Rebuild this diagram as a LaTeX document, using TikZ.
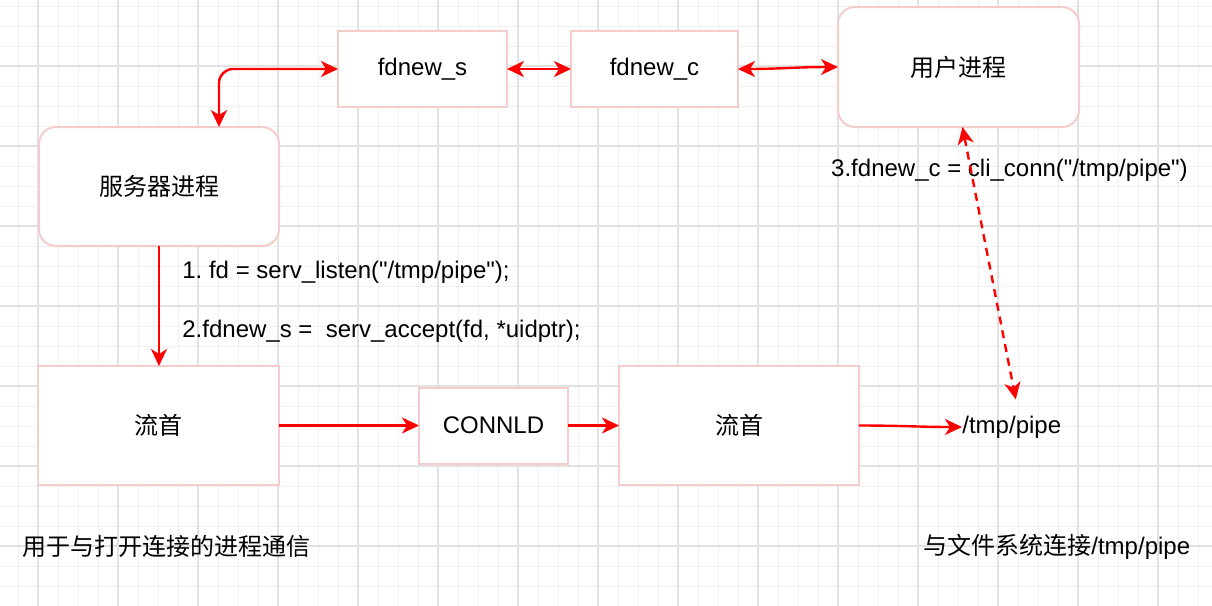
\documentclass[tikz,border=0pt]{standalone}
\usepackage{fontspec}
\setmainfont{Liberation Sans}[Ligatures=TeXOff]
\newfontfamily\cjk{Noto Sans CJK SC}
\usepackage{tikz}
\usetikzlibrary{positioning, arrows.meta, calc}
\definecolor{boxLine}{HTML}{F4CCCC}
\definecolor{lnRed}{HTML}{FF0000}
\definecolor{gridMinor}{HTML}{F1F1F1}
\definecolor{gridMajor}{HTML}{E2E2E2}
\frenchspacing

\begin{document}
\begin{tikzpicture}[x=0.5pt,y=0.5pt,font=\fontsize{12}{14}\selectfont,bx/.style={draw=boxLine, line width=1pt, fill=white, inner sep=2pt, outer sep=0pt},rbx/.style={bx, rounded corners=8.5pt},lbl/.style={inner sep=0pt},arr/.style={-{Stealth[length=8.5pt, width=8pt, inset=2.5pt]}, line width=1.2pt, color=lnRed},darr/.style={{Stealth[length=8.5pt, width=8pt, inset=2.5pt]}-{Stealth[length=8.5pt, width=8pt, inset=2.5pt]}, line width=1.2pt, color=lnRed},gmin/.style={draw=gridMinor, line width=0.5pt},gmaj/.style={draw=gridMajor, line width=0.6pt}]
\useasboundingbox[fill=white] (0,0) rectangle (1212,-606);
% background grid
\foreach \gx in {18,38,...,1198} \draw[gmin] (\gx,0) -- (\gx,-606);
\foreach \gy in {6,26,...,586} \draw[gmin] (0,-\gy) -- (1212,-\gy);
\foreach \gx in {38,118,...,1158} \draw[gmaj] (\gx,0) -- (\gx,-606);
\foreach \gy in {66,146,...,546} \draw[gmaj] (0,-\gy) -- (1212,-\gy);
% boxes
\node[bx, minimum width=84.5pt, minimum height=38pt] (fds) at (422.5,-69) {fdnew\_s};
\node[bx, minimum width=83.5pt, minimum height=38pt, right=32pt of fds] (fdc) {fdnew\_c};
\node[rbx, minimum width=120.5pt, minimum height=60pt] (usr) at (958.5,-67) {{\cjk 用户进程}};
\node[rbx, minimum width=120pt, minimum height=59.5pt] (srv) at (159,-186.5) {{\cjk 服务器进程}};
\node[bx, minimum width=120.5pt, minimum height=59.5pt] (ls1) at (158.5,-425.5) {{\cjk 流首}};
\node[bx, minimum width=74.5pt, minimum height=38pt, right=70pt of ls1] (cld) {CONNLD};
\node[bx, minimum width=120pt, minimum height=59.5pt, right=25.5pt of cld] (ls2) {{\cjk 流首}};
\node[lbl, anchor=west] (pipe) at (962,-427) {/tmp/pipe};
% labels
\node[lbl, anchor=west] (st1) at (182,-272) {1. fd = serv\_listen("/tmp/pipe");};
\node[lbl, anchor=west] (st2) at (182,-331) {2.fdnew\_s = \ serv\_accept(fd, *uidptr);};
\node[lbl] (st3) at (1009.5,-170) {3.fdnew\_c = cli\_conn("/tmp/pipe")};
\node[lbl, anchor=west] (nt1) at (22,-546) {{\cjk 用于与打开连接的进程通信}};
\node[lbl, anchor=west] (nt2) at (923,-547) {{\cjk 与文件系统连接}/tmp/pipe};
% connectors
\draw[darr, rounded corners=7pt] ([xshift=30pt]srv.north) |- (fds.west);
\draw[darr] (fds) -- (fdc); \draw[darr] (fdc.east) to[out=0, in=180] (usr.west);
\draw[arr] (srv.south) -- (srv.south |- ls1.north);
\draw[arr] (ls1.east |- cld) -- (cld.west); \draw[arr] (cld) -- (ls2);
\draw[arr] (ls2.east) to[out=0, in=180] (pipe.west);
\draw[darr, dash pattern=on 4pt off 3pt] ([xshift=2pt]usr.south) -- ([xshift=2pt, yshift=8pt]pipe.north);
\end{tikzpicture}
\end{document}
